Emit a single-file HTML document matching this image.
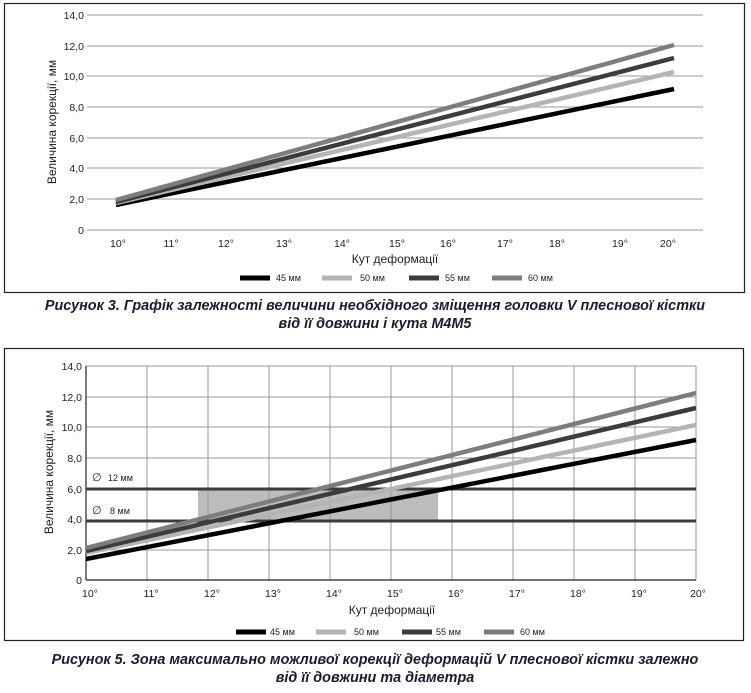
<!DOCTYPE html>
<html><head><meta charset="utf-8"><style>
body{margin:0;background:#fff;}
svg{display:block;font-family:"Liberation Sans",sans-serif;}
.cap{font-weight:bold;font-style:italic;font-size:14.4px;fill:#1a1a33;}
.t{font-size:10.5px;fill:#222;}
.l{font-size:9px;fill:#222;}
</style></head><body>
<svg width="751" height="693" viewBox="0 0 751 693">
<!-- Chart 1 -->
<rect x="4.5" y="3.5" width="740" height="289" fill="#fff" stroke="#222" stroke-width="1.2"/>
<g stroke="#999" stroke-width="1">
<line x1="87" y1="15" x2="703" y2="15"/><line x1="87" y1="46" x2="703" y2="46"/>
<line x1="87" y1="76" x2="703" y2="76"/><line x1="87" y1="107" x2="703" y2="107"/>
<line x1="87" y1="138" x2="703" y2="138"/><line x1="87" y1="168" x2="703" y2="168"/>
<line x1="87" y1="199" x2="703" y2="199"/><line x1="87" y1="230" x2="703" y2="230"/>
</g>
<g class="t" text-anchor="end">
<text x="84" y="19">14,0</text><text x="84" y="50">12,0</text><text x="84" y="80">10,0</text>
<text x="84" y="111">8,0</text><text x="84" y="142">6,0</text><text x="84" y="172">4,0</text>
<text x="84" y="203">2,0</text><text x="84" y="234">0</text>
</g>
<g class="t" text-anchor="middle">
<text x="118" y="247">10°</text><text x="171" y="247">11°</text><text x="226" y="247">12°</text>
<text x="284" y="247">13°</text><text x="342" y="247">14°</text><text x="397" y="247">15°</text>
<text x="448" y="247">16°</text><text x="505" y="247">17°</text><text x="557" y="247">18°</text>
<text x="620" y="247">19°</text><text x="668" y="247">20°</text>
<text x="395" y="263" font-size="12">Кут деформації</text>
<text transform="translate(56,122) rotate(-90)" font-size="12">Величина корекції, мм</text>
</g>
<g stroke-width="4.5">
<line x1="116" y1="205" x2="674" y2="89" stroke="#000"/>
<line x1="116" y1="203" x2="674" y2="72" stroke="#b4b4b4"/>
<line x1="116" y1="202" x2="674" y2="58" stroke="#3c3c3c"/>
<line x1="116" y1="200" x2="674" y2="45" stroke="#7d7d7d"/>
</g>
<g stroke-width="5">
<line x1="240" y1="278" x2="270" y2="278" stroke="#000"/>
<line x1="322" y1="278" x2="352" y2="278" stroke="#b4b4b4"/>
<line x1="409" y1="278" x2="439" y2="278" stroke="#3c3c3c"/>
<line x1="492" y1="278" x2="522" y2="278" stroke="#7d7d7d"/>
</g>
<g class="l"><text x="276" y="281">45 мм</text><text x="360" y="281">50 мм</text><text x="445" y="281">55 мм</text><text x="528" y="281">60 мм</text></g>
<text class="cap" x="375" y="310" text-anchor="middle">Рисунок 3. Графік залежності величини необхідного зміщення головки V плеснової кістки</text>
<text class="cap" x="375" y="328" text-anchor="middle">від її довжини і кута М4М5</text>

<!-- Chart 2 -->
<rect x="4.5" y="348.5" width="739" height="292" fill="#fff" stroke="#222" stroke-width="1.2"/>
<rect x="198" y="490" width="240" height="31" fill="#bcbcbc"/>
<g stroke="#999" stroke-width="1">
<line x1="86" y1="366" x2="696" y2="366"/><line x1="86" y1="397" x2="696" y2="397"/>
<line x1="86" y1="427" x2="696" y2="427"/><line x1="86" y1="458" x2="696" y2="458"/>
<line x1="86" y1="550" x2="696" y2="550"/>
<line x1="147" y1="366" x2="147" y2="580"/><line x1="208" y1="366" x2="208" y2="580"/>
<line x1="269" y1="366" x2="269" y2="580"/><line x1="330" y1="366" x2="330" y2="580"/>
<line x1="391" y1="366" x2="391" y2="580"/><line x1="452" y1="366" x2="452" y2="580"/>
<line x1="513" y1="366" x2="513" y2="580"/><line x1="574" y1="366" x2="574" y2="580"/>
<line x1="635" y1="366" x2="635" y2="580"/><line x1="696" y1="366" x2="696" y2="580"/>
</g>
<line x1="86" y1="366" x2="86" y2="580" stroke="#222" stroke-width="1.2"/>
<line x1="86" y1="580" x2="696" y2="580" stroke="#222" stroke-width="1.2"/>
<g stroke="#3c3c3c" stroke-width="3">
<line x1="86" y1="489" x2="696" y2="489"/><line x1="86" y1="521" x2="696" y2="521"/>
</g>
<g class="t" text-anchor="end">
<text x="82" y="370">14,0</text><text x="82" y="401">12,0</text><text x="82" y="431">10,0</text>
<text x="82" y="462">8,0</text><text x="82" y="493">6,0</text><text x="82" y="523">4,0</text>
<text x="82" y="554">2,0</text><text x="82" y="584">0</text>
</g>
<g class="l"><text x="92" y="481" font-size="11">∅</text><text x="108" y="481">12 мм</text>
<text x="92" y="514" font-size="11">∅</text><text x="110" y="514">8 мм</text></g>
<g class="t" text-anchor="middle">
<text x="90" y="597">10°</text><text x="151" y="597">11°</text><text x="212" y="597">12°</text>
<text x="273" y="597">13°</text><text x="334" y="597">14°</text><text x="395" y="597">15°</text>
<text x="456" y="597">16°</text><text x="517" y="597">17°</text><text x="578" y="597">18°</text>
<text x="639" y="597">19°</text><text x="698" y="597">20°</text>
<text x="392" y="614" font-size="12">Кут деформації</text>
<text transform="translate(53,472) rotate(-90)" font-size="12">Величина корекції, мм</text>
</g>
<g stroke-width="4.5">
<line x1="86" y1="559" x2="696" y2="440" stroke="#000"/>
<line x1="86" y1="553" x2="696" y2="425" stroke="#b4b4b4"/>
<line x1="86" y1="551" x2="696" y2="408" stroke="#3c3c3c"/>
<line x1="86" y1="548" x2="696" y2="393" stroke="#7d7d7d"/>
</g>
<g stroke-width="5">
<line x1="236" y1="632" x2="266" y2="632" stroke="#000"/>
<line x1="316" y1="632" x2="346" y2="632" stroke="#b4b4b4"/>
<line x1="402" y1="632" x2="432" y2="632" stroke="#3c3c3c"/>
<line x1="484" y1="632" x2="514" y2="632" stroke="#7d7d7d"/>
</g>
<g class="l"><text x="270" y="635">45 мм</text><text x="354" y="635">50 мм</text><text x="436" y="635">55 мм</text><text x="520" y="635">60 мм</text></g>
<text class="cap" x="375" y="664" text-anchor="middle">Рисунок 5. Зона максимально можливої корекції деформацій V плеснової кістки залежно</text>
<text class="cap" x="375" y="682" text-anchor="middle">від її довжини та діаметра</text>
</svg>
</body></html>
